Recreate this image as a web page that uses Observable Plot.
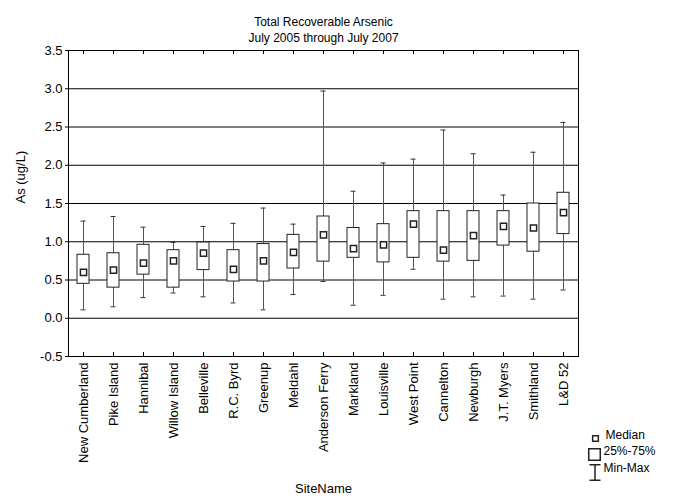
<!DOCTYPE html>
<html><head><meta charset="utf-8">
<script src="https://cdn.jsdelivr.net/npm/d3@7"></script>
<script src="https://cdn.jsdelivr.net/npm/@observablehq/plot@0.6"></script>
<style>
body{margin:0;background:#fff;}
#wrap{width:675px;height:502px;}
</style></head><body><div id="wrap"></div>
<script>
const sites = ["New Cumberland","Pike Island","Hannibal","Willow Island","Belleville","R.C. Byrd","Greenup","Meldahl","Anderson Ferry","Markland","Louisville","West Point","Cannelton","Newburgh","J.T. Myers","Smithland","L&D 52"];
const mins    = [0.11,0.15,0.27,0.33,0.28,0.20,0.11,0.31,0.48,0.17,0.30,0.64,0.25,0.28,0.29,0.25,0.37];
const q1s     = [0.45,0.40,0.57,0.40,0.63,0.48,0.48,0.65,0.74,0.79,0.73,0.79,0.74,0.75,0.95,0.87,1.10];
const medians = [0.60,0.63,0.72,0.75,0.85,0.64,0.75,0.86,1.09,0.91,0.96,1.23,0.89,1.08,1.20,1.18,1.38];
const q3s     = [0.83,0.85,0.96,0.89,0.99,0.89,0.97,1.09,1.33,1.18,1.23,1.40,1.40,1.40,1.40,1.50,1.64];
const maxs    = [1.27,1.33,1.19,0.99,1.20,1.24,1.44,1.23,2.97,1.66,2.03,2.08,2.46,2.15,1.61,2.17,2.56];
const yTicks  = [-0.5,0.0,0.5,1.0,1.5,2.0,2.5,3.0,3.5];
const gridLines = [0.0,0.5,1.0,1.5,2.0,2.5,3.0];
const titleLine1 = "Total Recoverable Arsenic";
const titleLine2 = "July 2005 through July 2007";
const legendLabels = ["Median","25%-75%","Min-Max"];

const data = sites.map((s,i)=>({site:s,min:mins[i],q1:q1s[i],median:medians[i],q3:q3s[i],max:maxs[i]}));

const font = "Liberation Sans, Arial, sans-serif";
const whiskerSymbol = {draw(ctx, size){const s=Math.sqrt(size/Math.PI); const h=s*1.4; ctx.moveTo(-s,-h); ctx.lineTo(s,-h); ctx.moveTo(0,-h); ctx.lineTo(0,h); ctx.moveTo(-s,h); ctx.lineTo(s,h);}};

const chart = Plot.plot({
  width:675, height:502,
  marginLeft:68, marginRight:97, marginTop:50, marginBottom:146,
  style:{fontFamily:font, fontSize:"13px", background:"white", color:"#000"},
  x:{domain:sites, padding:0, label:null},
  y:{domain:[-0.5,3.5], label:null},
  marks:[
    Plot.ruleY(gridLines,{stroke:"#000", strokeWidth:1}),
    Plot.frame({stroke:"#000"}),
    Plot.ruleX(data,{x:"site", y1:"min", y2:"max", stroke:"#555"}),
    Plot.tickY(data,{x:"site", y:"min", insetLeft:12.5, insetRight:12.5, stroke:"#333"}),
    Plot.tickY(data,{x:"site", y:"max", insetLeft:12.5, insetRight:12.5, stroke:"#333"}),
    Plot.barY(data,{x:"site", y1:"q1", y2:"q3", fill:"white", stroke:"#222", insetLeft:9, insetRight:9}),
    Plot.dot(data,{x:"site", y:"median", symbol:"square", r:3.5, fill:"white", stroke:"#222"}),
    Plot.tickX(sites,{x:d=>d, insetTop:302, stroke:"#000"}),
    Plot.tickX(sites,{x:d=>d, insetBottom:302, stroke:"#000"}),
    Plot.axisY({ticks:yTicks, tickFormat:d=>d.toFixed(1), tickSize:3, tickPadding:3, label:null, fontSize:13}),
    Plot.axisX({tickSize:0, tickRotate:-90, tickPadding:6, label:null, fontSize:13}),
    Plot.text(["As (ug/L)"],{text:d=>d, frameAnchor:"left", dx:-48, rotate:-90, fontSize:13}),
    Plot.text(["SiteName"],{text:d=>d, frameAnchor:"bottom", dy:136, fontSize:13}),
    Plot.text([titleLine1],{text:d=>d, frameAnchor:"top", dy:-33, fontSize:12}),
    Plot.text([titleLine2],{text:d=>d, frameAnchor:"top", dy:-17, fontSize:12}),
    // legend
    Plot.dot([legendLabels[0]],{frameAnchor:"bottom-right", dx:17, dy:82, symbol:"square", r:3.2, fill:"white", stroke:"#222"}),
    Plot.dot([legendLabels[1]],{frameAnchor:"bottom-right", dx:16, dy:98, symbol:"square", r:6.5, fill:"white", stroke:"#222"}),
    Plot.dot([legendLabels[2]],{frameAnchor:"bottom-right", dx:16.5, dy:116, symbol:whiskerSymbol, r:5.5, fill:"none", stroke:"#222"}),
    Plot.text([legendLabels[0]],{text:d=>d, frameAnchor:"bottom-right", dx:27, dy:82, textAnchor:"start", fontSize:12}),
    Plot.text([legendLabels[1]],{text:d=>d, frameAnchor:"bottom-right", dx:25, dy:98, textAnchor:"start", fontSize:12}),
    Plot.text([legendLabels[2]],{text:d=>d, frameAnchor:"bottom-right", dx:25, dy:115, textAnchor:"start", fontSize:12}),
  ]
});
document.getElementById("wrap").appendChild(chart);
</script></body></html>
